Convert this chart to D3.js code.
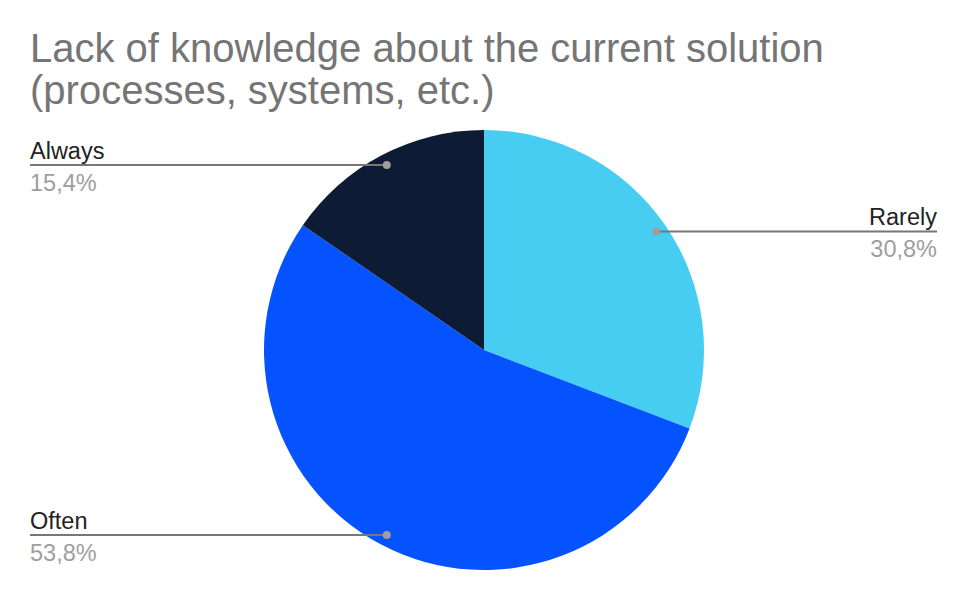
<!DOCTYPE html>
<html><head><meta charset="utf-8">
<script src="https://cdn.jsdelivr.net/npm/d3@7"></script>
<style>body{margin:0;background:#fff}svg{display:block}</style>
</head><body>
<script>
const categories = ["Rarely", "Often", "Always"];
const values = [30.8, 53.8, 15.4];
const valueLabels = ["30,8%", "53,8%", "15,4%"];
const colors = ["#47CDF2", "#0552FF", "#0D1B35"];
const titleLines = ["Lack of knowledge about the current solution", "(processes, systems, etc.)"];

const W = 968, H = 600, cx = 484, cy = 350, R = 220;
const svg = d3.select("body").append("svg").attr("width", W).attr("height", H);

svg.append("g").selectAll("text").data(titleLines).join("text")
  .attr("x", 30).attr("y", (d, i) => 62 + i * 42)
  .attr("font-family", "Liberation Sans, Arial, sans-serif")
  .attr("font-size", 40).attr("fill", "#757575").text(d => d);

const data = categories.map((c, i) => ({c, v: values[i], lab: valueLabels[i], col: colors[i]}));
const pie = d3.pie().value(d => d.v).sort(null);
const arcs = pie(data);
const arc = d3.arc().innerRadius(0).outerRadius(R);
const g = svg.append("g").attr("transform", `translate(${cx},${cy})`);
g.selectAll("path").data(arcs).join("path").attr("d", arc).attr("fill", d => d.data.col);

const inner = d3.arc().innerRadius(R * 0.95).outerRadius(R * 0.95);
arcs.forEach(a => {
  const [px, py] = inner.centroid(a);
  const x = cx + px, y = cy + py;
  const right = px > 0;
  const ex = right ? 937 : 30;
  svg.append("line").attr("x1", x).attr("y1", y).attr("x2", ex).attr("y2", y)
    .attr("stroke", "#777").attr("stroke-width", 2);
  svg.append("circle").attr("cx", x).attr("cy", y).attr("r", 4).attr("fill", "#9e9e9e");
  svg.append("text").attr("x", ex).attr("y", y - 6)
    .attr("text-anchor", right ? "end" : "start")
    .attr("font-family", "Liberation Sans, Arial, sans-serif").attr("font-size", 23.5)
    .attr("fill", "#222").text(a.data.c);
  svg.append("text").attr("x", ex).attr("y", y + 26)
    .attr("text-anchor", right ? "end" : "start")
    .attr("font-family", "Liberation Sans, Arial, sans-serif").attr("font-size", 23.5)
    .attr("fill", "#9e9e9e").text(a.data.lab);
});
</script>
</body></html>
